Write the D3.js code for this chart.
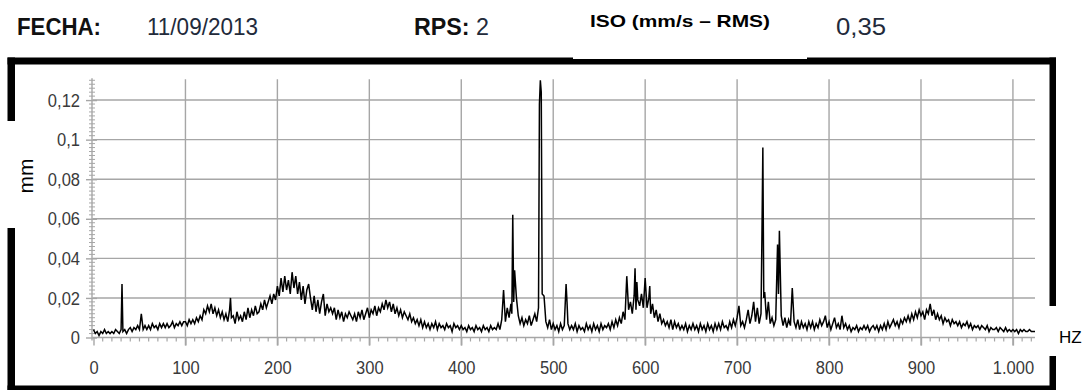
<!DOCTYPE html>
<html>
<head>
<meta charset="utf-8">
<script src="https://cdn.jsdelivr.net/npm/d3@7"></script>
<style>
  html, body { margin: 0; padding: 0; background: #fff; }
  svg { display: block; }
</style>
</head>
<body>
<svg id="chart" width="1090" height="390"></svg>
<script>
// ---------- data (amplitude in micrometres = mm/1000) ----------
const hzStep = 2; // base spectrum sampled every 2 Hz, 0..1024
const ampBase_um = [
  4,2,3,1,3,2,4,2,3,2,
  3,2,4,3,2,4,3,4,2,4,
  5,3,5,4,6,4,12,4,6,4,
  6,4,7,5,6,4,7,5,7,5,
  7,5,6,8,5,7,6,8,6,8,
  8,6,9,7,9,7,10,8,11,9,
  14,12,16,13,17,12,15,11,14,10,
  13,9,12,8,14,10,11,7,13,9,
  11,8,13,9,15,10,14,11,16,12,
  13,17,14,19,15,18,21,17,22,19,
  26,21,30,23,31,24,29,22,33,25,
  31,22,28,19,26,17,24,27,20,14,
  21,13,19,12,18,22,11,17,13,15,
  12,15,9,14,10,13,8,12,10,13,
  11,9,12,8,13,10,14,9,12,15,
  10,14,12,16,11,15,13,17,14,19,
  15,18,13,17,12,15,11,14,10,13,
  11,9,12,8,10,7,9,6,9,5,
  8,5,7,4,7,5,8,4,7,5,
  6,4,7,5,6,3,7,5,6,4,
  6,4,5,3,6,4,5,3,6,4,
  5,3,6,4,5,3,6,4,5,4,
  7,4,9,24,8,15,10,17,62,34,
  20,11,7,10,6,9,7,11,6,9,
  12,8,15,130,22,21,8,5,9,4,
  7,4,6,3,7,4,6,27,7,4,
  6,4,7,3,6,4,5,3,7,4,
  6,3,7,4,6,3,7,4,6,5,
  7,4,8,5,9,6,10,7,13,9,
  31,14,18,12,21,14,19,16,22,15,
  30,15,20,12,17,10,14,8,12,7,
  9,6,8,5,9,4,8,5,7,4,
  6,4,7,3,6,4,7,4,6,3,
  7,4,6,3,7,4,6,3,7,4,
  7,4,8,5,6,4,8,5,9,6,
  10,16,6,8,5,9,14,7,11,18,
  8,15,7,12,96,23,9,18,7,10,
  6,9,47,54,11,6,10,5,9,6,
  25,8,5,9,4,8,5,7,4,8,
  5,8,4,7,5,9,6,8,11,5,
  8,4,7,10,5,7,4,11,5,7,
  4,6,3,5,4,6,3,5,4,6,
  4,6,3,5,6,4,6,3,6,4,
  7,4,8,5,7,9,6,8,5,9,
  7,10,8,11,8,12,9,13,10,14,
  11,13,9,14,12,17,11,14,9,12,
  9,11,7,10,8,9,6,9,7,8,
  6,8,5,7,6,8,5,7,4,6,
  5,6,4,6,5,4,6,3,5,4,
  4,5,3,5,4,3,5,3,4,3,
  4,3,4,2,4,3,4,3,3,4,
  3,3,3
];
// narrow lines between the 2 Hz samples
const spikeHz = [31, 149, 455, 457, 485, 487, 515, 589, 591, 605, 727, 729, 745];
const spike_um = [27, 20, 12, 18, 118, 124, 18, 35, 28, 26, 51, 20, 22];

const xTicks = [0,100,200,300,400,500,600,700,800,900,1000];
const yTicks = [0,0.02,0.04,0.06,0.08,0.1,0.12];

const headerLabels = { fecha: "FECHA:", date: "11/09/2013", rps: "RPS:", rpsVal: " 2", iso: "ISO (mm/s \u2013 RMS)", isoVal: "0,35" };
const yAxisTitle = "mm";
const xAxisTitle = "HZ";

// ---------- build ----------
const pts = ampBase_um.map((v, i) => ({ hz: i * hzStep, mm: v / 1000 }))
  .concat(spikeHz.map((h, i) => ({ hz: h, mm: spike_um[i] / 1000 })))
  .sort((a, b) => a.hz - b.hz);

const svg = d3.select("#chart");
const loc = d3.formatLocale({ decimal: ",", thousands: ".", grouping: [3], currency: ["", ""] });
const fmtX = loc.format(",d");
const fmtY = loc.format("~g");

const x = d3.scaleLinear().domain([0, 1024]).range([93.5, 1035]);
const y = d3.scaleLinear().domain([0, 0.1305]).range([337.5, 79.3]);

const grid = "#a6a6a6";
const FONT = "'Liberation Sans', Arial, sans-serif";

// gridlines
svg.append("g").selectAll("line").data(yTicks.filter(d => d > 0)).join("line")
  .attr("x1", x(0) - 1).attr("x2", x(1024))
  .attr("y1", d => y(d)).attr("y2", d => y(d))
  .attr("stroke", grid).attr("stroke-width", 1.4);
svg.append("g").selectAll("line").data(xTicks.filter(d => d > 0)).join("line")
  .attr("x1", d => x(d)).attr("x2", d => x(d))
  .attr("y1", y(0.1305)).attr("y2", y(0) + 8)
  .attr("stroke", grid).attr("stroke-width", 1.4);

// x axis
const xAxis = d3.axisBottom(x).tickValues(xTicks).tickFormat(fmtX).tickSize(8).tickPadding(15);
const gx = svg.append("g").attr("transform", `translate(0,${y(0)})`).call(xAxis);
gx.select(".domain").attr("stroke", grid).attr("stroke-width", 1.4).attr("d", `M${x(0) - 1},0H${x(1024)}`);
gx.selectAll(".tick line").attr("stroke", grid).attr("stroke-width", 1.4);
gx.selectAll(".tick text").attr("fill", "#3a3a3a").attr("font-family", FONT).attr("font-size", 19)
  .attr("transform", "scale(0.87,1)");
// x minor ticks every 10 Hz
svg.append("g").selectAll("line").data(d3.range(10, 1024, 10).filter(d => d % 100 !== 0)).join("line")
  .attr("x1", d => x(d)).attr("x2", d => x(d))
  .attr("y1", y(0)).attr("y2", y(0) + 4)
  .attr("stroke", grid).attr("stroke-width", 1.2);

// y axis
const yAxis = d3.axisLeft(y).tickValues(yTicks).tickFormat(fmtY).tickSize(6).tickPadding(4);
const gy = svg.append("g").attr("transform", `translate(${x(0) - 1.5},0)`).call(yAxis);
gy.select(".domain").attr("stroke", grid).attr("stroke-width", 1.4).attr("d", `M0,${y(0.1305) - 1}V${y(0) + 3}`);
gy.selectAll(".tick line").attr("stroke", grid).attr("stroke-width", 1.4).attr("x2", -6).attr("x1", 5);
gy.selectAll(".tick text").attr("fill", "#3a3a3a").attr("font-family", FONT).attr("font-size", 19)
  .attr("transform", "scale(0.87,1)").attr("x", -12 / 0.87);
// y minor ticks every 0.002
svg.append("g").selectAll("line").data(d3.range(1, 66).map(i => i * 0.002).filter(d => Math.abs(d / 0.02 - Math.round(d / 0.02)) > 1e-6)).join("line")
  .attr("x1", x(0) - 4.5).attr("x2", x(0) + 1.5)
  .attr("y1", d => y(d)).attr("y2", d => y(d))
  .attr("stroke", grid).attr("stroke-width", 1);

// spectrum line
const line = d3.line().x(d => x(d.hz)).y(d => y(d.mm));
svg.append("path").datum(pts).attr("d", line)
  .attr("fill", "none").attr("stroke", "#000").attr("stroke-width", 1.5).attr("stroke-linejoin", "miter");

// ---------- frame ----------
const frame = svg.append("g").attr("fill", "#000");
frame.append("rect").attr("x", 7.5).attr("y", 57.5).attr("width", 1048.5).attr("height", 7);   // top
frame.append("rect").attr("x", 7.5).attr("y", 57.5).attr("width", 7.5).attr("height", 63.5);  // left upper
frame.append("rect").attr("x", 7.5).attr("y", 228).attr("width", 7.5).attr("height", 165);    // left lower
frame.append("rect").attr("x", 7.5).attr("y", 385.5).attr("width", 1048.5).attr("height", 8); // bottom
frame.append("rect").attr("x", 1049.5).attr("y", 57.5).attr("width", 6.5).attr("height", 248.5); // right upper
frame.append("rect").attr("x", 1049.5).attr("y", 356).attr("width", 6.5).attr("height", 40);  // right lower
svg.append("rect").attr("x", 573).attr("y", 56).attr("width", 234).attr("height", 3).attr("fill", "#fff");

// ---------- texts ----------
svg.append("text").attr("x", 17).attr("y", 35).attr("font-family", FONT).attr("font-weight", "bold")
  .attr("font-size", 24).attr("fill", "#111").attr("textLength", 84).attr("lengthAdjust", "spacingAndGlyphs")
  .text(headerLabels.fecha);
svg.append("text").attr("x", 147).attr("y", 35).attr("font-family", FONT)
  .attr("font-size", 24).attr("fill", "#222a3a").attr("textLength", 111).attr("lengthAdjust", "spacingAndGlyphs")
  .text(headerLabels.date);
const rps = svg.append("text").attr("x", 414).attr("y", 35).attr("font-family", FONT)
  .attr("font-size", 24).attr("fill", "#111").attr("textLength", 75).attr("lengthAdjust", "spacingAndGlyphs");
rps.append("tspan").attr("font-weight", "bold").text(headerLabels.rps);
rps.append("tspan").attr("fill", "#222a3a").text(headerLabels.rpsVal);
svg.append("text").attr("x", 590).attr("y", 27).attr("font-family", FONT).attr("font-weight", "bold")
  .attr("font-size", 17).attr("fill", "#000").attr("textLength", 180).attr("lengthAdjust", "spacingAndGlyphs")
  .text(headerLabels.iso);
svg.append("text").attr("x", 836).attr("y", 35).attr("font-family", FONT)
  .attr("font-size", 24).attr("fill", "#222a3a").attr("textLength", 50).attr("lengthAdjust", "spacingAndGlyphs")
  .text(headerLabels.isoVal);

svg.append("text").attr("transform", "translate(33,176) rotate(-90)").attr("text-anchor", "middle")
  .attr("font-family", FONT).attr("font-size", 21).attr("fill", "#000").text(yAxisTitle);
svg.append("text").attr("x", 1059).attr("y", 343).attr("font-family", FONT)
  .attr("font-size", 17).attr("fill", "#000").text(xAxisTitle);
</script>
</body>
</html>
